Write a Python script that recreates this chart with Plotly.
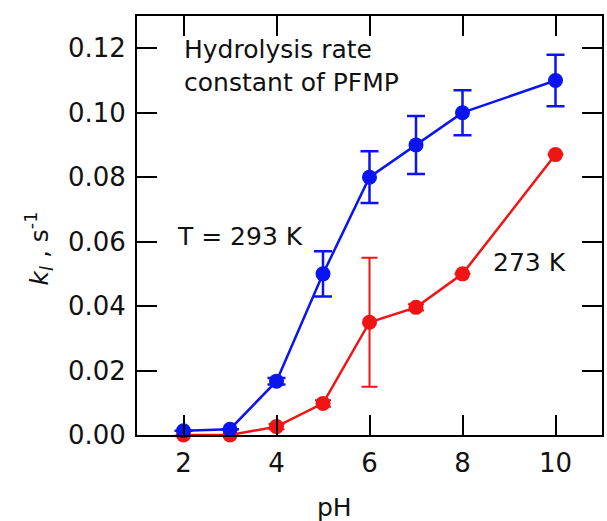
import plotly.graph_objects as go

# Hydrolysis rate constant of PFMP versus pH at two temperatures
ph_293 = [2, 3, 4, 5, 6, 7, 8, 10]
k_293 = [0.0013, 0.0018, 0.0167, 0.050, 0.080, 0.090, 0.100, 0.110]
err_293 = [0.0, 0.0, 0.001, 0.007, 0.008, 0.009, 0.007, 0.008]

ph_273 = [2, 3, 4, 5, 6, 7, 8, 10]
k_273 = [0.0, 0.0, 0.0026, 0.0098, 0.035, 0.0396, 0.050, 0.087]
err_273 = [0.0, 0.0, 0.0008, 0.001, 0.020, 0.001, 0.0, 0.0]

x_ticks = [2, 4, 6, 8, 10]
y_ticks = [0.00, 0.02, 0.04, 0.06, 0.08, 0.10, 0.12]

BLUE = "#0a14f0"
RED = "#f01414"
FONT = "DejaVu Sans"

fig = go.Figure()

fig.add_trace(go.Scatter(
    x=ph_273, y=k_273, mode="lines+markers",
    line=dict(color=RED, width=2.5),
    marker=dict(color=RED, size=15),
    error_y=dict(type="data", array=err_273, visible=True,
                 color=RED, thickness=2, width=8),
    cliponaxis=False, showlegend=False,
))

fig.add_trace(go.Scatter(
    x=ph_293, y=k_293, mode="lines+markers",
    line=dict(color=BLUE, width=2.5),
    marker=dict(color=BLUE, size=15),
    error_y=dict(type="data", array=err_293, visible=True,
                 color=BLUE, thickness=2.5, width=9),
    cliponaxis=False, showlegend=False,
))

axis_common = dict(
    showline=True, linecolor="black", linewidth=2,
    ticks="inside", ticklen=20, tickwidth=2, tickcolor="black",
    mirror="allticks", showgrid=False, zeroline=False,
    tickfont=dict(family=FONT, size=26, color="#111111"),
)

fig.update_xaxes(range=[1, 11], tickvals=x_ticks, ticklabelstandoff=4,
                 **axis_common)
fig.update_yaxes(range=[0, 0.13], tickvals=y_ticks, tickformat=".2f",
                 ticklabelstandoff=4, **axis_common)

text_font = dict(family=FONT, size=25, color="#111111")

fig.add_annotation(
    xref="x", yref="y", x=1.96, y=0.1145, xanchor="left", yanchor="middle",
    text="Hydrolysis rate<br>constant of PFMP", align="left",
    showarrow=False, font=text_font,
)
fig.add_annotation(
    xref="x", yref="y", x=1.82, y=0.0615, xanchor="left", yanchor="middle",
    text="T = 293 K", showarrow=False, font=text_font,
)
fig.add_annotation(
    xref="x", yref="y", x=8.62, y=0.0535, xanchor="left", yanchor="middle",
    text="273 K", showarrow=False, font=text_font,
)
fig.add_annotation(
    xref="x", yref="paper", x=5.25, y=-0.174, xanchor="center", yanchor="middle",
    text="pH", showarrow=False, font=text_font,
)
fig.add_annotation(
    xref="paper", yref="y", x=-0.21, y=0.058, xanchor="center", yanchor="middle",
    text="<i>k<sub>l</sub></i> , s<sup>-1</sup>", textangle=-90,
    showarrow=False, font=text_font,
)

fig.update_layout(
    width=607, height=521,
    margin=dict(l=137, r=3, t=16, b=86),
    paper_bgcolor="white", plot_bgcolor="white",
)

fig.write_html("out.html")
